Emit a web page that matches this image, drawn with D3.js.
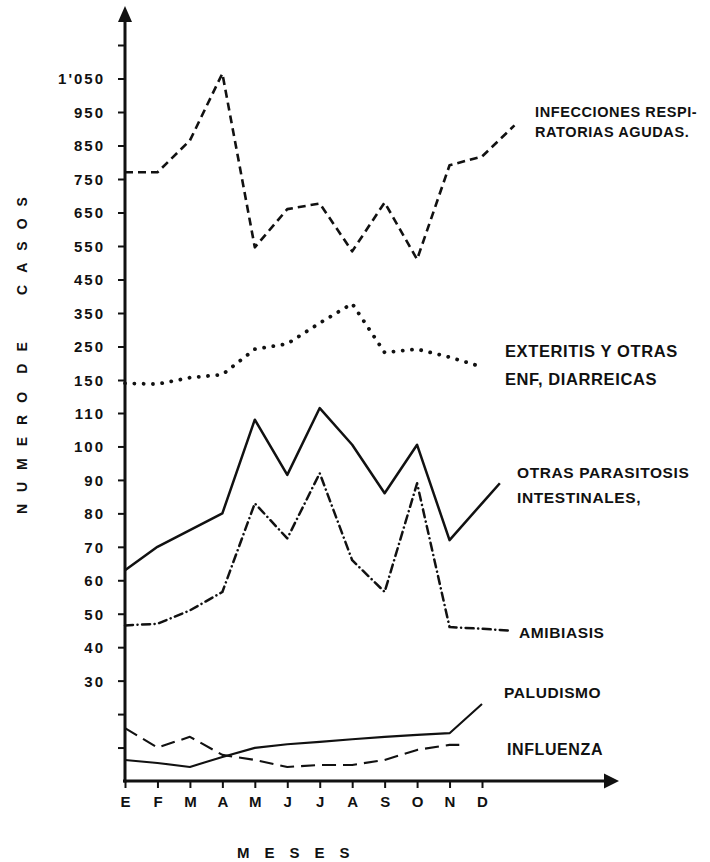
<!DOCTYPE html>
<html>
<head>
<meta charset="utf-8">
<script src="https://cdn.jsdelivr.net/npm/d3@7"></script>
<style>
  html, body { margin: 0; padding: 0; background: #fff; }
  svg { display: block; }
  text { font-family: "Liberation Sans", Arial, sans-serif; font-weight: bold; fill: #111; }
</style>
</head>
<body>
<svg id="chart" width="710" height="862"></svg>
<script>
// Monthly case counts, E (enero) .. D (diciembre)
const months = ["E", "F", "M", "A", "M", "J", "J", "A", "S", "O", "N", "D"];

const infecciones = [770, 770, 865, 1065, 546, 660, 677, 534, 680, 510, 791, 817];
const infeccionesEnd = [12, 910];          // [month index, value] where the stroke stops

const enteritis = [146, 145, 157, 166, 242, 258, 320, 378, 232, 242, 218, 189];

const parasitosis = [63, 70, 75, 80, 108, 91.5, 116, 100.5, 86, 100.5, 72, 83];
const parasitosisEnd = [11.55, 89];

const amibiasis = [46.5, 47, 51, 56.5, 83, 72.5, 92, 66, 56.5, 89, 46, 45.5];
const amibiasisEnd = [11.8, 45];

const paludismo = [6.3, 5.4, 4.2, 7.2, 9.9, 11, 11.7, 12.5, 13.2, 13.8, 14.3, 23];

const influenza = [15.8, 10, 13.2, 7.8, 6.3, 4.2, 4.8, 4.8, 6.3, 9.3, 10.8, null];
const influenzaEnd = [10.3, 10.8];

// Broken value axis: 10-unit steps up to 110, then 100-unit steps from 150
const yTickValues = [10, 20, 30, 40, 50, 60, 70, 80, 90, 100, 110,
                     150, 250, 350, 450, 550, 650, 750, 850, 950, 1050, 1150];
const yLabelValues = [30, 40, 50, 60, 70, 80, 90, 100, 110,
                      150, 250, 350, 450, 550, 650, 750, 850, 950, 1050];
const yLabelText = ["30", "40", "50", "60", "70", "80", "90", "100", "110",
                    "150", "250", "350", "450", "550", "650", "750", "850", "950", "1'050"];

const svg = d3.select("#chart");

const x = d3.scaleLinear().domain([0, 11]).range([125, 482]);
const y = d3.scaleLinear().domain([0, 110, 150, 1150]).range([781, 413, 380, 45]);

const axisX = 125, axisY = y(0);

// ---- value axis ----
const yAxis = d3.axisLeft(y)
  .tickValues(yTickValues)
  .tickFormat(v => {
    const i = yLabelValues.indexOf(v);
    return i >= 0 ? yLabelText[i] : "";
  })
  .tickSize(7)
  .tickPadding(13);

const gy = svg.append("g").attr("transform", `translate(${axisX},0)`).call(yAxis);
gy.select(".domain").remove();
gy.selectAll(".tick line").attr("stroke", "#111").attr("stroke-width", 2);
gy.selectAll(".tick text")
  .style("font-size", "15px")
  .style("letter-spacing", "2px")
  .attr("fill", "#111")
  .attr("dy", "0.36em");

svg.append("line")
  .attr("x1", axisX).attr("x2", axisX)
  .attr("y1", axisY + 1.5).attr("y2", 18)
  .attr("stroke", "#111").attr("stroke-width", 3);
svg.append("path")
  .attr("d", `M${axisX},6 L${axisX - 7},22 L${axisX + 7},22 Z`)
  .attr("fill", "#111");

// ---- month axis ----
const xAxis = d3.axisBottom(x)
  .tickValues(d3.range(months.length))
  .tickFormat(i => months[i])
  .tickSize(7);

const gx = svg.append("g").attr("transform", `translate(0,${axisY})`).call(xAxis);
gx.select(".domain").remove();
gx.selectAll(".tick line").attr("stroke", "#111").attr("stroke-width", 2);
gx.selectAll(".tick text")
  .style("font-size", "15px")
  .attr("fill", "#111")
  .attr("y", 26).attr("dy", 0);

const xEnd = 619;
svg.append("line")
  .attr("x1", axisX - 2).attr("x2", xEnd - 12)
  .attr("y1", axisY).attr("y2", axisY)
  .attr("stroke", "#111").attr("stroke-width", 3);
svg.append("path")
  .attr("d", `M${xEnd},${axisY} L${xEnd - 15},${axisY - 7.5} L${xEnd - 15},${axisY + 7.5} Z`)
  .attr("fill", "#111");

// ---- series ----
function points(values, end) {
  const pts = values.map((v, i) => [i, v]).filter(p => p[1] != null);
  if (end) pts.push(end);
  return pts;
}

const line = d3.line().x(d => x(d[0])).y(d => y(d[1]));

const series = [
  { pts: points(infecciones, infeccionesEnd), width: 2.6, dash: "8 5", cap: "butt" },
  { pts: points(enteritis), width: 3.8, dash: "0.1 9.2", cap: "round" },
  { pts: points(parasitosis, parasitosisEnd), width: 2.5, dash: null, cap: "butt" },
  { pts: points(amibiasis, amibiasisEnd), width: 2.5, dash: "8 4.5 0.1 4.5", cap: "round" },
  { pts: points(paludismo), width: 2.1, dash: null, cap: "butt" },
  { pts: points(influenza, influenzaEnd), width: 2.1, dash: "14 7", cap: "butt" }
];

series.forEach(s => {
  svg.append("path")
    .attr("d", line(s.pts))
    .attr("fill", "none")
    .attr("stroke", "#111")
    .attr("stroke-width", s.width)
    .attr("stroke-linecap", s.cap)
    .attr("stroke-linejoin", "round")
    .attr("stroke-dasharray", s.dash);
});

// ---- series labels ----
function label(lines, lx, baselines, size) {
  const t = svg.append("text").style("font-size", size + "px").style("letter-spacing", "0.6px");
  lines.forEach((s, i) => t.append("tspan").attr("x", lx).attr("y", baselines[i]).text(s));
}
label(["INFECCIONES RESPI-", "RATORIAS AGUDAS."], 535, [117, 137], 14.5);
label(["EXTERITIS Y OTRAS", "ENF, DIARREICAS"], 505, [357, 385], 16.5);
label(["OTRAS PARASITOSIS", "INTESTINALES,"], 517, [478, 503], 15.5);
label(["AMIBIASIS"], 519, [638], 15.5);
label(["PALUDISMO"], 504, [698], 15.5);
label(["INFLUENZA"], 507, [755], 16);

// ---- axis titles ----
function vertical(word, cy) {
  svg.append("text")
    .attr("transform", `translate(27,${cy}) rotate(-90)`)
    .attr("text-anchor", "middle")
    .style("font-size", "14px")
    .style("letter-spacing", "12px")
    .attr("dx", 6)
    .text(word);
}
vertical("NUMERO", 453);
vertical("DE", 358);
vertical("CASOS", 246);

svg.append("text")
  .attr("x", 237).attr("y", 858)
  .style("font-size", "15px")
  .style("letter-spacing", "15px")
  .text("MESES");
</script>
</body>
</html>
